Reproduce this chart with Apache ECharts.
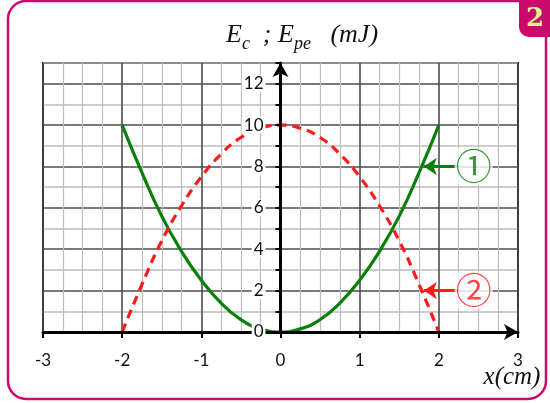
<!DOCTYPE html>
<html>
<head>
<meta charset="utf-8">
<script src="https://cdn.jsdelivr.net/npm/echarts@6/dist/echarts.min.js"></script>
<style>
  html, body { margin: 0; padding: 0; background: #fff; }
  #main { width: 550px; height: 403px; }
</style>
</head>
<body>
<div id="main"></div>
<script>
// positions along x (cm)
var xs = [-2, -1.75, -1.5, -1.25, -1, -0.75, -0.5, -0.25, 0, 0.25, 0.5, 0.75, 1, 1.25, 1.5, 1.75, 2];
// Ec (mJ) - curve 1
var ec = [10, 7.7, 5.6, 3.9, 2.5, 1.4, 0.6, 0.15, 0, 0.15, 0.6, 1.4, 2.5, 3.9, 5.6, 7.7, 10];
// Epe (mJ) - curve 2
var epe = [0, 2.3, 4.4, 6.1, 7.5, 8.6, 9.4, 9.85, 10, 9.85, 9.4, 8.6, 7.5, 6.1, 4.4, 2.3, 0];
// axis ranges
var xRange = [-3, 3];
var yRange = [0, 13];
// annotation marks: [label x, y, arrow start x, arrow tip x]
var mark1 = [2.44, 8, 2.26, 1.81];
var mark2 = [2.44, 2, 2.26, 1.81];

var green = '#0a800a';
var red = '#ff1a1a';
var magenta = '#cc0a6e';
var tickFont = 'Lato';

function pairs(xv, yv) {
    return xv.map(function (x, i) { return [x, yv[i]]; });
}

var myChart = echarts.init(document.getElementById('main'));

function annot(m, txt, color) {
    return {
        type: 'scatter',
        z: 6,
        symbolSize: 0,
        silent: true,
        data: [[m[0], m[1]]],
        label: {
            show: true,
            position: 'inside',
            formatter: txt,
            color: color,
            fontSize: 36,
            fontFamily: 'Noto Sans CJK JP',
            backgroundColor: '#fff',
            padding: [0, 1]
        },
        markLine: {
            silent: true,
            symbol: ['none', 'arrow'],
            symbolSize: [13, 13],
            label: { show: false },
            lineStyle: { color: color, width: 3, type: 'solid' },
            data: [[{ coord: [m[2], m[1]] }, { coord: [m[3], m[1]] }]]
        }
    };
}

var option = {
    animation: false,
    title: {
        text: '{i|E}{s|c}{i|  ; E}{s|pe}{i|   (mJ)}',
        left: 221,
        top: 12,
        textStyle: {
            fontWeight: 'normal',
            rich: {
                i: { fontFamily: 'Liberation Serif', fontStyle: 'italic', fontWeight: 'normal', fontSize: 26, color: '#111' },
                s: { fontFamily: 'Liberation Serif', fontStyle: 'italic', fontWeight: 'normal', fontSize: 18, color: '#111', padding: [18, 0, 0, 0] }
            }
        }
    },
    graphic: [
        { type: 'rect', shape: { x: 8, y: 1, width: 538, height: 398, r: 18 },
          style: { fill: 'none', stroke: magenta, lineWidth: 2.5 }, z: 10 },
        { type: 'rect', shape: { x: 519, y: 0, width: 31, height: 37, r: [0, 0, 0, 10] },
          style: { fill: magenta }, z: 11 },
        { type: 'text', x: 535, y: 19, z: 12,
          style: { text: '2', fill: '#dcf590', font: 'bold 26px "DejaVu Serif"', align: 'center', verticalAlign: 'middle' } },
        { type: 'text', x: 512, y: 377, z: 12,
          style: { text: 'x(cm)', fill: '#111', font: 'italic 25px "Liberation Serif"', align: 'center', verticalAlign: 'middle' } }
    ],
    grid: {
        left: 43, right: 32, top: 63, bottom: 71,
        show: true, borderColor: '#000', borderWidth: 2, backgroundColor: '#fff'
    },
    xAxis: [{
        type: 'value', min: xRange[0], max: xRange[1], interval: 1,
        axisLine: { show: false, onZero: false }, axisTick: { show: false }, axisLabel: { show: false },
        splitLine: { show: true, lineStyle: { color: '#4d4d4d', width: 1.6 } },
        minorTick: { show: false, splitNumber: 4 },
        minorSplitLine: { show: true, lineStyle: { color: '#bdbdbd', width: 1.2 } }
    }, {
        type: 'value', min: xRange[0], max: xRange[1], interval: 1, position: 'bottom', z: 5,
        axisLine: { show: true, onZero: false, symbol: ['none', 'arrow'], symbolSize: [12, 14],
                    lineStyle: { color: '#000', width: 3 } },
        axisTick: { show: true, length: 6, lineStyle: { color: '#000', width: 2 } },
        axisLabel: { margin: 20, fontSize: 17, fontFamily: tickFont, color: '#111' },
        splitLine: { show: false }
    }],
    yAxis: [{
        type: 'value', min: yRange[0], max: yRange[1], interval: 1,
        axisLine: { show: false, onZero: false }, axisTick: { show: false }, axisLabel: { show: false },
        splitLine: { show: true, lineStyle: { color: ['#4d4d4d', '#bdbdbd'], width: 1.6 } }
    }, {
        type: 'value', min: yRange[0], max: yRange[1], interval: 1, position: 'left', z: 5,
        // push the axis from the grid edge to x = 0
        offset: -237.5,
        axisLine: { show: true, onZero: false, symbol: ['none', 'arrow'], symbolSize: [12, 14],
                    lineStyle: { color: '#000', width: 3 } },
        axisTick: { show: true, length: 5, lineStyle: { color: '#000', width: 2 } },
        axisLabel: {
            margin: 15,
            formatter: function (v) { return v % 2 === 0 && v < 13 ? '{b|' + v + '}' : ''; },
            rich: { b: { fontSize: 17, fontFamily: tickFont, color: '#111', backgroundColor: '#fff', padding: [0, 2, 0, 2] } }
        },
        splitLine: { show: false }
    }],
    series: [{
        name: 'Ec',
        type: 'line',
        xAxisIndex: 0, yAxisIndex: 0,
        smooth: true,
        showSymbol: false,
        data: pairs(xs, ec),
        lineStyle: { color: green, width: 3.2 },
        z: 3
    }, {
        name: 'Epe',
        type: 'line',
        xAxisIndex: 0, yAxisIndex: 0,
        smooth: true,
        showSymbol: false,
        data: pairs(xs, epe),
        lineStyle: { color: red, width: 3.2, type: [9, 6] },
        z: 3
    },
    annot(mark1, '①', green),
    annot(mark2, '②', red)
    ]
};
myChart.setOption(option);
</script>
</body>
</html>
